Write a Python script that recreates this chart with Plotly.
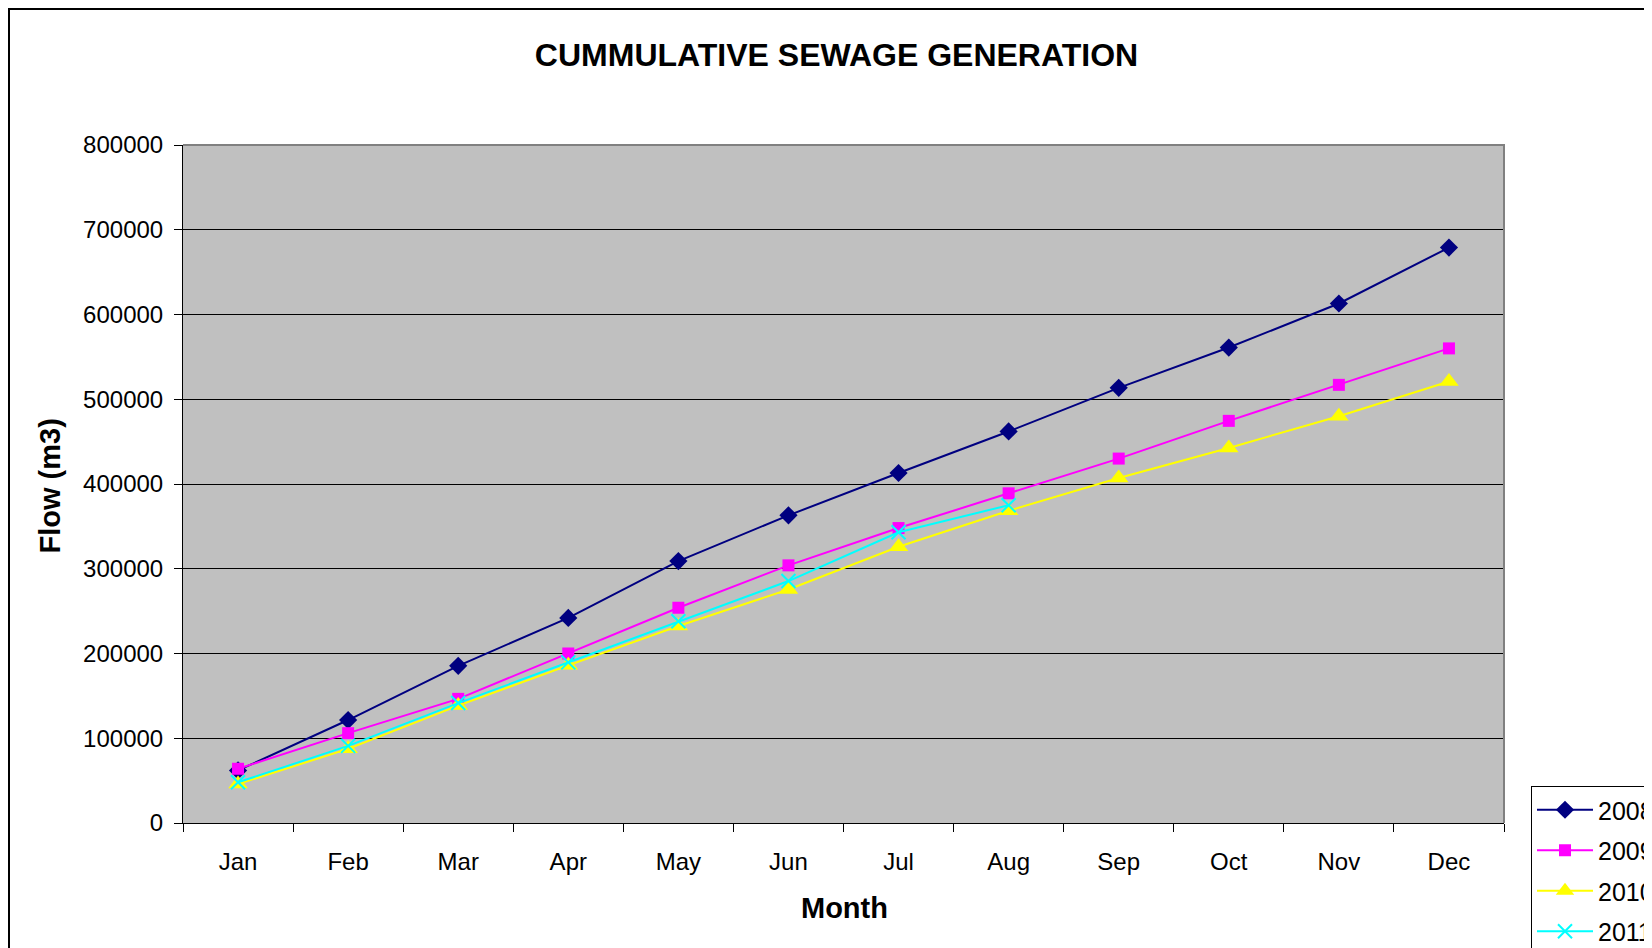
import plotly.graph_objects as go

months = ["Jan", "Feb", "Mar", "Apr", "May", "Jun", "Jul", "Aug", "Sep", "Oct", "Nov", "Dec"]
flow_2008 = [62000, 121500, 185500, 242000, 309000, 363000, 413000, 462000, 513500, 561000, 613000, 679000]
flow_2009 = [64000, 106000, 146500, 200000, 254000, 304000, 348000, 389000, 430000, 474500, 517000, 560000]
flow_2010 = [46000, 87500, 138500, 186000, 232500, 275500, 326000, 368500, 407000, 442500, 480000, 521000]
flow_2011 = [48000, 91000, 141500, 189500, 238000, 285500, 343000, 375000, None, None, None, None]

FONT = "Liberation Sans, Arial, sans-serif"

series = [
    ("2008", flow_2008, "#000080", dict(symbol="diamond", size=14, color="#000080")),
    ("2009", flow_2009, "#FF00FF", dict(symbol="square", size=12, color="#FF00FF")),
    ("2010", flow_2010, "#FFFF00", dict(symbol="triangle-up", size=17, color="#FFFF00")),
    ("2011", flow_2011, "#00FFFF", dict(symbol="x-thin", size=14, color="#00FFFF",
                                        line=dict(color="#00FFFF", width=2))),
]

fig = go.Figure()
for name, vals, col, mk in series:
    fig.add_trace(go.Scatter(
        x=months, y=vals, name=name, mode="lines+markers",
        line=dict(color=col, width=2), marker=mk, legendgroup=name,
        connectgaps=False,
    ))

# page body has an 8px margin (left and top): work in page pixels
OFF = 8
W, H = 1652 - OFF, 948 - OFF
PL, PR, PT, PB = 183, 1504, 145, 823          # plot area in page pixels
L, T = PL - OFF, PT - OFF
R, B = W + OFF - PR, H + OFF - PB
pw, ph = PR - PL, PB - PT

def px_x(x):
    return (x - PL) / pw

def px_y(y):
    return (PB - y) / ph

fig.update_layout(
    width=W, height=H,
    margin=dict(l=L, r=R, t=T, b=B, autoexpand=False),
    paper_bgcolor="white",
    plot_bgcolor="#C0C0C0",
    font=dict(family=FONT, color="black"),
    title=dict(text="CUMMULATIVE SEWAGE GENERATION", x=(836.5 - OFF) / W, xanchor="center",
               y=1 - (55 - OFF) / H, yanchor="middle", yref="container",
               font=dict(size=32, family=FONT, weight="bold", color="black")),
    showlegend=True,
    legend=dict(x=px_x(1531), y=px_y(786), xanchor="left", yanchor="top",
                bgcolor="white", bordercolor="black", borderwidth=1,
                font=dict(size=25, family=FONT, color="black"),
                tracegroupgap=5, itemwidth=56, traceorder="grouped"),
    xaxis=dict(type="category", categoryorder="array", categoryarray=months,
               range=[-0.5, 11.5],
               tickson="boundaries", ticks="outside", ticklen=8, tickcolor="black",
               showline=True, linecolor="black", linewidth=1, showgrid=False,
               tickfont=dict(size=24, family=FONT), ticklabelstandoff=17,
               fixedrange=True),
    yaxis=dict(range=[0, 800000], dtick=100000, tick0=0, tickformat="d",
               ticks="outside", ticklen=8, tickcolor="black",
               showline=True, linecolor="black", linewidth=1,
               showgrid=True, gridcolor="black", gridwidth=1, zeroline=False,
               tickfont=dict(size=24, family=FONT), ticklabelstandoff=6,
               fixedrange=True),
    shapes=[
        # plot area border (top and right, gray)
        dict(type="path", xref="paper", yref="paper",
             path="M 0 1 L 1 1 L 1 0", line=dict(color="#808080", width=2), layer="above"),
        # outer chart border (left and top edges of the chart area)
        dict(type="rect", xref="paper", yref="paper",
             x0=px_x(OFF + 1), y0=px_y(948 + 60), x1=px_x(1652 + 60), y1=px_y(OFF + 1),
             line=dict(color="black", width=2), layer="below"),
    ],
    annotations=[
        dict(text="Flow (m3)", xref="paper", yref="paper", x=px_x(49.5), y=px_y(486),
             textangle=-90, showarrow=False, xanchor="center", yanchor="middle",
             font=dict(size=29, family=FONT, weight="bold", color="black")),
        dict(text="Month", xref="paper", yref="paper", x=px_x(844), y=px_y(908),
             showarrow=False, xanchor="center", yanchor="middle",
             font=dict(size=29, family=FONT, weight="bold", color="black")),
    ],
)

fig.write_html("out.html")
